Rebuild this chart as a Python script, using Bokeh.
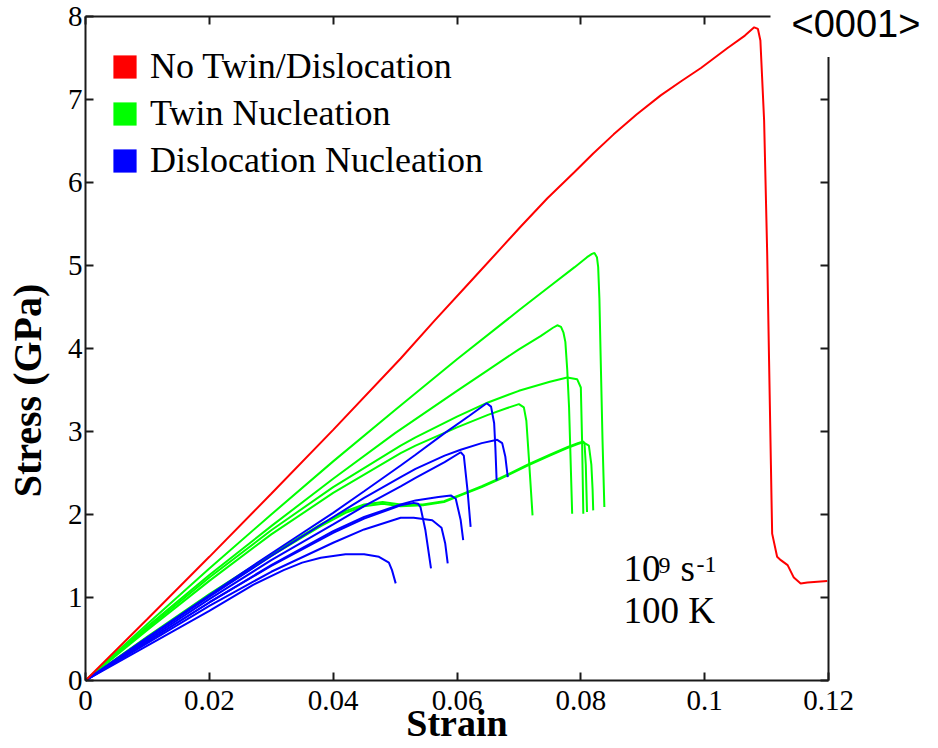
from math import pi
from bokeh.plotting import figure
from bokeh.models import Range1d, LinearAxis, FixedTicker, Label, Legend, LegendItem, Grid
from bokeh.embed import file_html
from bokeh.resources import INLINE

# ---------------- data ----------------
x_ticks = [0, 0.02, 0.04, 0.06, 0.08, 0.1, 0.12]
x_tick_labels = ["0", "0.02", "0.04", "0.06", "0.08", "0.1", "0.12"]
y_ticks = [0, 1, 2, 3, 4, 5, 6, 7, 8]
y_tick_labels = ["0", "1", "2", "3", "4", "5", "6", "7", "8"]

legend_labels = ["No Twin/Dislocation", "Twin Nucleation", "Dislocation Nucleation"]
legend_colors = ["#ff0000", "#00ff00", "#0000ff"]

red_strain = [0, 0.01, 0.02, 0.03, 0.04, 0.0509, 0.0563, 0.0627, 0.0670, 0.0703,
              0.0746, 0.0789, 0.082, 0.0853, 0.089, 0.0929, 0.0962, 0.0994, 0.1037, 0.1065,
              0.1080, 0.1086, 0.1090, 0.1096, 0.1101, 0.1104, 0.1107, 0.1108, 0.1109, 0.1117,
              0.1123, 0.1134, 0.1144, 0.1155, 0.1166, 0.1182, 0.1198]
red_stress = [0, 0.74, 1.49, 2.25, 3.02, 3.88, 4.33, 4.85, 5.20, 5.47,
              5.81, 6.12, 6.35, 6.58, 6.82, 7.05, 7.22, 7.38, 7.62, 7.77,
              7.87, 7.85, 7.71, 6.75, 5.14, 3.86, 2.60, 2.17, 1.77, 1.49,
              1.45, 1.39, 1.24, 1.17, 1.18, 1.19, 1.20]

twin1_strain = [0, 0.01, 0.02, 0.03, 0.04, 0.05, 0.06, 0.07, 0.075, 0.079,
                0.081, 0.0818, 0.0822, 0.0826, 0.0828, 0.0830, 0.0832, 0.0835, 0.0838]
twin1_stress = [0, 0.68, 1.35, 2.00, 2.64, 3.26, 3.87, 4.46, 4.75, 4.98,
                5.10, 5.14, 5.15, 5.10, 4.98, 4.60, 3.90, 2.90, 2.09]

twin2_strain = [0, 0.01, 0.02, 0.03, 0.04, 0.05, 0.06, 0.065, 0.07, 0.0735,
                0.0755, 0.0762, 0.0768, 0.0772, 0.0775, 0.0778, 0.0781, 0.0786]
twin2_stress = [0, 0.65, 1.27, 1.86, 2.43, 2.98, 3.49, 3.74, 3.99, 4.15,
                4.25, 4.28, 4.26, 4.19, 4.08, 3.75, 3.29, 2.01]

twin3_strain = [0, 0.01, 0.02, 0.03, 0.04, 0.0509, 0.0533, 0.06, 0.065, 0.07,
                0.075, 0.0778, 0.0794, 0.0800, 0.0802, 0.0804]
twin3_stress = [0, 0.63, 1.24, 1.81, 2.33, 2.83, 2.93, 3.18, 3.35, 3.49,
                3.60, 3.65, 3.63, 3.53, 2.89, 2.01]

twin4_strain = [0, 0.01, 0.02, 0.03, 0.04, 0.0509, 0.0533, 0.06, 0.065, 0.068,
                0.0700, 0.0708, 0.0712, 0.0716, 0.0722]
twin4_stress = [0, 0.61, 1.20, 1.76, 2.26, 2.74, 2.83, 3.05, 3.20, 3.28,
                3.33, 3.29, 3.13, 2.69, 1.99]

twin5_strain = [0, 0.01, 0.02, 0.03, 0.038, 0.042, 0.045, 0.048, 0.0509, 0.0545,
                0.0579, 0.0606, 0.064, 0.067, 0.0714, 0.075, 0.0778, 0.0795, 0.0804, 0.0806,
                0.0808, 0.0809, 0.0810]
twin5_stress = [0, 0.53, 1.04, 1.52, 1.88, 2.04, 2.12, 2.15, 2.12, 2.12,
                2.16, 2.24, 2.34, 2.44, 2.60, 2.72, 2.81, 2.86, 2.88, 2.85,
                2.60, 2.30, 2.03]

twin6_strain = [0, 0.01, 0.02, 0.03, 0.038, 0.042, 0.045, 0.048, 0.0509, 0.0545,
                0.0579, 0.0606, 0.064, 0.067, 0.0714, 0.075, 0.0778, 0.0795, 0.0804, 0.0813,
                0.0817, 0.0819, 0.0820]
twin6_stress = [0, 0.52, 1.02, 1.50, 1.86, 2.02, 2.10, 2.13, 2.10, 2.11,
                2.15, 2.23, 2.33, 2.43, 2.59, 2.71, 2.80, 2.85, 2.87, 2.83,
                2.60, 2.30, 2.05]

disl1_strain = [0, 0.01, 0.02, 0.03, 0.04, 0.045, 0.0509, 0.0533, 0.058, 0.062,
                0.0648, 0.0655, 0.0660, 0.0662, 0.0664]
disl1_stress = [0, 0.52, 1.03, 1.53, 2.02, 2.28, 2.59, 2.72, 2.98, 3.19,
                3.34, 3.30, 3.10, 2.80, 2.41]

disl2_strain = [0, 0.01, 0.02, 0.03, 0.04, 0.045, 0.0509, 0.0533, 0.058, 0.0606,
                0.064, 0.0665, 0.0673, 0.0678, 0.0682]
disl2_stress = [0, 0.51, 1.01, 1.50, 1.97, 2.20, 2.45, 2.55, 2.71, 2.78,
                2.86, 2.90, 2.86, 2.70, 2.45]

disl3_strain = [0, 0.01, 0.02, 0.03, 0.04, 0.045, 0.0509, 0.0533, 0.058, 0.0606,
                0.0611, 0.0617, 0.0622]
disl3_stress = [0, 0.49, 0.98, 1.45, 1.88, 2.10, 2.34, 2.44, 2.63, 2.75,
                2.71, 2.29, 1.85]

disl4_strain = [0, 0.01, 0.02, 0.03, 0.04, 0.045, 0.0509, 0.0533, 0.057, 0.059,
                0.0598, 0.0606, 0.0610]
disl4_stress = [0, 0.47, 0.94, 1.39, 1.80, 1.97, 2.12, 2.17, 2.21, 2.23,
                2.19, 1.93, 1.69]

disl5_strain = [0, 0.01, 0.02, 0.03, 0.04, 0.045, 0.0509, 0.053, 0.0537, 0.0541,
                0.0549, 0.0558]
disl5_stress = [0, 0.47, 0.94, 1.38, 1.78, 1.95, 2.11, 2.14, 2.13, 2.09,
                1.81, 1.35]

disl6_strain = [0, 0.01, 0.02, 0.03, 0.04, 0.045, 0.0509, 0.053, 0.056, 0.0575,
                0.0581, 0.0585]
disl6_stress = [0, 0.45, 0.90, 1.31, 1.66, 1.82, 1.96, 1.96, 1.93, 1.84,
                1.65, 1.41]

disl7_strain = [0, 0.01, 0.02, 0.027, 0.032, 0.035, 0.038, 0.042, 0.045, 0.0474,
                0.049, 0.0495, 0.0501]
disl7_stress = [0, 0.42, 0.84, 1.15, 1.33, 1.42, 1.48, 1.52, 1.52, 1.49,
                1.42, 1.33, 1.17]

twin_curves = [(twin1_strain, twin1_stress), (twin2_strain, twin2_stress),
               (twin3_strain, twin3_stress), (twin4_strain, twin4_stress),
               (twin5_strain, twin5_stress), (twin6_strain, twin6_stress)]
disl_curves = [(disl1_strain, disl1_stress), (disl2_strain, disl2_stress),
               (disl3_strain, disl3_stress), (disl4_strain, disl4_stress),
               (disl5_strain, disl5_stress), (disl6_strain, disl6_stress),
               (disl7_strain, disl7_stress)]

# ---------------- layout geometry ----------------
W, H = 936, 746
PX_LEFT, PX_RIGHT = 85.0, 828.0   # pixel columns of strain 0 and 0.12
PX_BOTTOM, PX_TOP = 680.0, 16.0   # pixel rows of stress 0 and 8
sx = (PX_RIGHT - PX_LEFT) / 0.12
sy = (PX_BOTTOM - PX_TOP) / 8.0
x_start, x_end = -PX_LEFT / sx, (W - PX_LEFT) / sx
y_end, y_start = PX_BOTTOM / sy, (PX_BOTTOM - H) / sy


def dx(px):
    return (px - PX_LEFT) / sx


def dy(py):
    return (PX_BOTTOM - py) / sy


SERIF = "Liberation Serif"
AXIS_COLOR = "#1a1a1a"

p = figure(width=W, height=H, output_backend="svg", toolbar_location=None,
           x_range=Range1d(x_start, x_end), y_range=Range1d(y_start, y_end),
           x_axis_location=None, y_axis_location=None, min_border=0)
p.outline_line_color = None
p.background_fill_color = "white"
p.border_fill_color = "white"
for g in p.select(type=Grid):
    g.visible = False


def make_axis(ticks, labels, loc, bounds, show_labels, standoff):
    ax = LinearAxis(ticker=FixedTicker(ticks=ticks), fixed_location=loc, bounds=bounds)
    ax.major_label_overrides = {t: l for t, l in zip(ticks, labels)}
    ax.axis_line_width = 2
    ax.axis_line_color = AXIS_COLOR
    ax.major_tick_line_width = 2
    ax.major_tick_line_color = AXIS_COLOR
    ax.major_tick_in = 8
    ax.major_tick_out = 0
    ax.minor_tick_line_color = None
    ax.major_label_text_font = SERIF
    ax.major_label_text_font_size = "29px"
    ax.major_label_standoff = standoff
    if show_labels:
        ax.major_label_text_color = "black"
    else:
        ax.major_label_text_color = None
        ax.major_label_text_alpha = 0
    return ax


p.add_layout(make_axis(x_ticks, x_tick_labels, 0, (0, 0.12), True, 10), "below")
p.add_layout(make_axis(y_ticks, y_tick_labels, 0, (0, 8), True, 3), "left")
p.add_layout(make_axis(x_ticks, x_tick_labels, 8, (0, 0.12), False, 3), "above")
p.add_layout(make_axis(y_ticks, y_tick_labels, 0.12, (0, 8), False, 3), "right")

# ---------------- curves ----------------
for xs, ys in twin_curves:
    p.line(xs, ys, line_color=legend_colors[1], line_width=2)
for xs, ys in disl_curves:
    p.line(xs, ys, line_color=legend_colors[2], line_width=2)
p.line(red_strain, red_stress, line_color=legend_colors[0], line_width=2)

# ---------------- legend (square swatches) ----------------
nan = float("nan")
items = []
for lab, col in zip(legend_labels, legend_colors):
    r = p.quad(left=[nan], right=[nan], top=[nan], bottom=[nan], fill_color=col, line_color=None)
    items.append(LegendItem(label=lab, renderers=[r]))
legend = Legend(items=items, location=(110, H - 181), margin=0, padding=0, spacing=5,
                glyph_width=29, glyph_height=29, label_height=40, label_standoff=11,
                label_text_font=SERIF, label_text_font_size="36px", label_text_color="black",
                border_line_color=None, background_fill_alpha=0)
p.add_layout(legend)

# ---------------- texts (y given as the centre of the text line) ----------------
def add_text(text, px, py, size, align="left", bold=False, angle=0.0, font=SERIF, **kw):
    p.add_layout(Label(x=dx(px), y=dy(py), text=text, text_align=align,
                       text_baseline="middle", text_font=font,
                       text_font_style="bold" if bold else "normal",
                       text_font_size=size, text_color="black", angle=angle, **kw))


add_text("Strain", 456.5, 722, "38px", align="center", bold=True)
add_text("Stress (GPa)", 27, 390, "40px", align="center", bold=True, angle=pi / 2)

add_text("10", 623, 568, "37px")
add_text("9", 658, 565, "24px")
add_text("s", 680, 568, "37px")
add_text("-1", 696, 564, "24px")
add_text("100 K", 623, 610, "37px")

add_text("<0001>", 770, 23.5, "38px", font="Liberation Sans",
         background_fill_color="white",
         padding={"left": 21, "right": 12, "top": 12, "bottom": 12})

open("out.html", "w").write(file_html(p, INLINE))
